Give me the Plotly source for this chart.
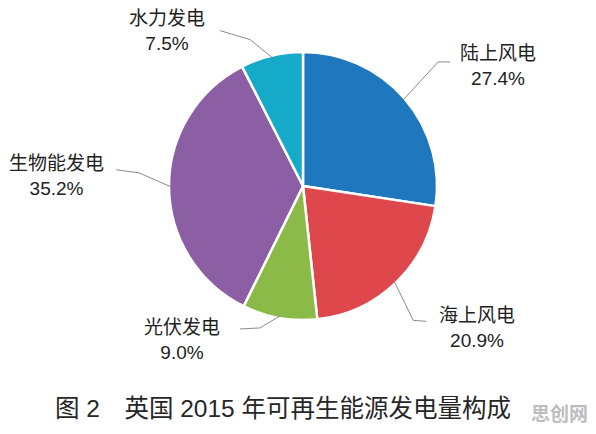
import math
import plotly.graph_objects as go

# page body keeps its 8px margin, so the figure is sized to fit inside it
PAGE_W, PAGE_H, BODY = 596, 434, 8
W, H = PAGE_W - 2 * BODY, PAGE_H - 2 * BODY

# data: slices clockwise from 12 o'clock
labels = ["陆上风电", "海上风电", "光伏发电", "生物能发电", "水力发电"]
shares = [27.4, 20.9, 9.0, 35.2, 7.5]
title_text = "图 2　英国 2015 年可再生能源发电量构成"

COLORS = ["#1F78BE", "#DE484C", "#8CBA48", "#8C5FA5", "#14AAC8"]

# layout in page pixels
CX, CY, R = 303, 186, 134
# label block centres, leader elbow offset from rim point, tail offset from elbow
LABEL_POS = [(498, 66), (477, 328), (182, 340), (56, 176), (167, 31)]
ELBOW = [(35, -38), (19, 39), (-20, 12), (-32, -14), (-22, -18)]
TAIL = [(12, 0), (13, 1), (-20, 1), (-23, -3), (-30, -9)]

FONT = "Liberation Sans, Arial, Noto Sans CJK SC, sans-serif"


def px(x, y):
    return (x - BODY) / W, 1 - (y - BODY) / H


fig = go.Figure(go.Pie(
    labels=labels,
    values=shares,
    sort=False,
    direction="clockwise",
    rotation=0,
    textinfo="none",
    hoverinfo="label+percent",
    marker=dict(colors=COLORS, line=dict(color="white", width=2.5)),
    domain=dict(x=[px(CX - R, 0)[0], px(CX + R, 0)[0]],
                y=[px(0, CY + R)[1], px(0, CY - R)[1]]),
    showlegend=False,
))

# leader lines + labels, anchored at slice mid-angles
total = sum(shares)
cum = 0.0
for i, (lab, v) in enumerate(zip(labels, shares)):
    mid = (cum + v / 2) / total * 2 * math.pi
    cum += v
    sx, sy = CX + (R - 2) * math.sin(mid), CY - (R - 2) * math.cos(mid)
    ex, ey = sx + ELBOW[i][0], sy + ELBOW[i][1]
    tx, ty = ex + TAIL[i][0], ey + TAIL[i][1]
    x0, y0 = px(sx, sy)
    x1, y1 = px(ex, ey)
    x2, y2 = px(tx, ty)
    fig.add_shape(type="path", xref="paper", yref="paper",
                  path=f"M {x0} {y0} L {x1} {y1} L {x2} {y2}",
                  line=dict(color="#8A8A8A", width=1))
    lx, ly = px(*LABEL_POS[i])
    fig.add_annotation(x=lx, y=ly, xref="paper", yref="paper",
                       text=f"{lab}<br>{v:.1f}%", showarrow=False,
                       align="center", xanchor="center", yanchor="middle",
                       font=dict(family=FONT, size=19, color="#222222"))

tx_, ty_ = px(283, 408)
fig.add_annotation(x=tx_, y=ty_, xref="paper", yref="paper",
                   text=title_text, showarrow=False,
                   xanchor="center", yanchor="middle",
                   font=dict(family=FONT, size=24.5, color="#262626"))
wx, wy = px(559, 414)
fig.add_annotation(x=wx, y=wy, xref="paper", yref="paper",
                   text="<b>思创网</b>", showarrow=False,
                   xanchor="center", yanchor="middle",
                   font=dict(family=FONT, size=19, color="#BDBDBD"))

fig.update_layout(
    width=W, height=H,
    margin=dict(l=0, r=0, t=0, b=0),
    paper_bgcolor="#FFFFFF",
    plot_bgcolor="#FFFFFF",
)

fig.write_html("out.html")
